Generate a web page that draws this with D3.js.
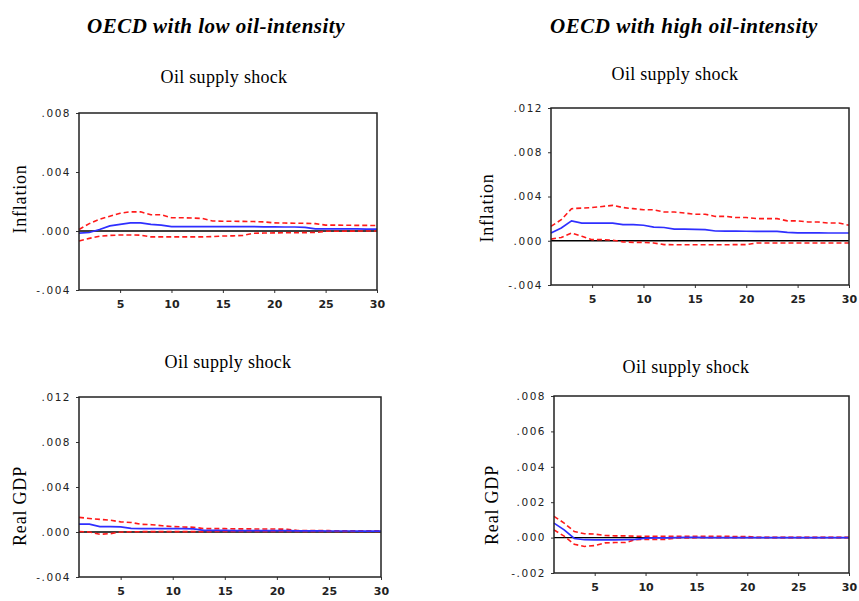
<!DOCTYPE html>
<meta charset="utf-8">
<head>
    <title>Oil supply shock responses</title>
</head>
<style>
    body { margin: 0; background: #fff; }
    svg { display: block; }
</style>
<script src="https://cdnjs.cloudflare.com/ajax/libs/d3/7.8.5/d3.min.js"></script>
<body>
    <div id="chart"></div>
</body>
<script>

    // periods after the shock
    var periods = [1, 2, 3, 4, 5, 6, 7, 8, 9, 10, 11, 12, 13, 14, 15, 16, 17, 18, 19, 20,
        21, 22, 23, 24, 25, 26, 27, 28, 29, 30];
    var xTicks = [5, 10, 15, 20, 25, 30];

    var groupTitles = ["OECD with low oil-intensity", "OECD with high oil-intensity"];

    // low oil-intensity, inflation
    var lowInfResp = [-0.00015, -0.0001, 0.0001, 0.00035, 0.00045, 0.00055, 0.00055, 0.00045, 0.0004, 0.0003,
        0.0003, 0.0003, 0.0003, 0.0003, 0.0003, 0.0003, 0.0003, 0.0003, 0.00028, 0.00028,
        0.00027, 0.00027, 0.00025, 0.00015, 0.00015, 0.00015, 0.00014, 0.00014, 0.00013, 0.00013];
    var lowInfUp = [0.0001, 0.0005, 0.0008, 0.001, 0.0012, 0.0013, 0.0013, 0.0011, 0.0011, 0.0009,
        0.0009, 0.00088, 0.00085, 0.00068, 0.00066, 0.00066, 0.00065, 0.00064, 0.00062, 0.00055,
        0.00054, 0.00053, 0.00052, 0.0005, 0.0004, 0.0004, 0.00039, 0.00038, 0.00038, 0.00037];
    var lowInfLo = [-0.00068, -0.0005, -0.00035, -0.0003, -0.00027, -0.00027, -0.00028, -0.0004, -0.0004, -0.0004,
        -0.0004, -0.0004, -0.0004, -0.00038, -0.00034, -0.00033, -0.0003, -0.00015, -0.00014, -0.00013,
        -0.00012, -0.00012, -0.00011, -0.0001, -0.00002, -0.00002, -0.00001, -0.00001, 0, 0];

    // high oil-intensity, inflation
    var highInfResp = [0.0007, 0.00115, 0.0018, 0.0016, 0.0016, 0.0016, 0.0016, 0.00145, 0.00145, 0.0014,
        0.00124, 0.0012, 0.00105, 0.00105, 0.00103, 0.001, 0.00088, 0.00087, 0.00087, 0.00086,
        0.00085, 0.00085, 0.00084, 0.00075, 0.00072, 0.00072, 0.00071, 0.0007, 0.0007, 0.0007];
    var highInfUp = [0.0013, 0.0019, 0.0029, 0.00295, 0.003, 0.0031, 0.0032, 0.003, 0.0029, 0.0028,
        0.0028, 0.0026, 0.0026, 0.0025, 0.0024, 0.0024, 0.0022, 0.0022, 0.0021, 0.0021,
        0.002, 0.002, 0.002, 0.0018, 0.0018, 0.0017, 0.0017, 0.0016, 0.0016, 0.0014];
    var highInfLo = [0.00015, 0.0003, 0.0007, 0.0004, 0.0001, 0.0001, 0.00005, -0.0001, -0.00015, -0.00015,
        -0.0002, -0.00035, -0.00036, -0.00036, -0.00036, -0.00036, -0.00036, -0.00036, -0.00035, -0.00035,
        -0.0002, -0.0002, -0.0002, -0.0002, -0.0002, -0.0002, -0.0002, -0.0002, -0.0002, -0.0002];

    // low oil-intensity, real GDP
    var lowGdpResp = [0.0007, 0.0007, 0.00048, 0.00047, 0.00046, 0.00032, 0.0003, 0.0003, 0.0003, 0.0003,
        0.0003, 0.00028, 0.00015, 0.00014, 0.00014, 0.00013, 0.00013, 0.00013, 0.00012, 0.00012,
        0.00012, 0.0001, 0.0001, 0.0001, 0.00009, 0.00009, 0.00009, 0.00008, 0.00008, 0.00008];
    var lowGdpUp = [0.0013, 0.0012, 0.00112, 0.00105, 0.0009, 0.00085, 0.00068, 0.00065, 0.00055, 0.00048,
        0.00045, 0.00042, 0.0003, 0.0003, 0.0003, 0.00028, 0.00028, 0.00027, 0.00027, 0.00026,
        0.00025, 0.00013, 0.00013, 0.00012, 0.00012, 0.00011, 0.00011, 0.0001, 0.0001, 0.0001];
    var lowGdpLo = [0.00005, 0, -0.0002, -0.00015, 0, 0.00002, 0.00003, 0.00003, 0.00003, 0.00003,
        0.00003, 0.00003, 0.00003, 0.00004, 0.00004, 0.00004, 0.00004, 0.00004, 0.00004, 0.00004,
        0.00004, 0.00004, 0.00004, 0.00004, 0.00004, 0.00004, 0.00004, 0.00004, 0.00004, 0.00004];

    // high oil-intensity, real GDP
    var highGdpResp = [0.00082, 0.00044, -0.00005, -0.00012, -0.00013, -0.00013, -0.00013, -0.00012, -0.0001, -0.00003,
        -0.00002, -0.00001, 0, 0.00001, 0.00001, 0, 0, 0, 0, 0,
        0, 0, 0, 0, 0, 0, 0, 0, 0, 0];
    var highGdpUp = [0.0012, 0.00082, 0.00034, 0.00022, 0.0002, 0.00012, 0.0001, 0.0001, 0.00008, 0.00008,
        0.00007, 0.00007, 0.00007, 0.00008, 0.00008, 0.00007, 0.00007, 0.00007, 0.00006, 0.00006,
        0.00002, 0.00001, 0.00001, 0.00001, 0.00001, 0.00001, 0.00001, 0.00001, 0.00001, 0.00001];
    var highGdpLo = [0.00044, 0.00008, -0.00038, -0.0005, -0.00045, -0.0003, -0.00028, -0.00028, -0.00012, -0.0001,
        -0.0001, -0.0001, -0.00002, -0.00002, -0.00001, -0.00001, -0.00001, 0, 0, 0,
        0, 0, 0, 0, 0, 0, 0, 0, 0, 0];

    // y ticks per panel
    var infLowTicks = [-0.004, 0, 0.004, 0.008];
    var infHighTicks = [-0.004, 0, 0.004, 0.008, 0.012];
    var gdpLowTicks = [-0.004, 0, 0.004, 0.008, 0.012];
    var gdpHighTicks = [-0.002, 0, 0.002, 0.004, 0.006, 0.008];

    var width = 859, height = 601;

    var svg = d3.select("#chart")
        .append("svg")
        .attr("width", width)
        .attr("height", height);

    // panel layout (box in pixels, label positions)
    var panels = [
        { resp: lowInfResp, up: lowInfUp, lo: lowInfLo, ticks: infLowTicks, ylabel: "Inflation",
          box: [79, 377, 113, 290], lab: [20, 199], sub: [224, 83] },
        { resp: highInfResp, up: highInfUp, lo: highInfLo, ticks: infHighTicks, ylabel: "Inflation",
          box: [551, 849, 108, 285], lab: [487, 208], sub: [675, 80] },
        { resp: lowGdpResp, up: lowGdpUp, lo: lowGdpLo, ticks: gdpLowTicks, ylabel: "Real GDP",
          box: [79, 381, 397, 577], lab: [20, 506], sub: [228, 368] },
        { resp: highGdpResp, up: highGdpUp, lo: highGdpLo, ticks: gdpHighTicks, ylabel: "Real GDP",
          box: [554, 849, 396, 573], lab: [492, 505], sub: [686, 373] }
    ];

    // group titles
    svg.append("text").attr("x", 216).attr("y", 33).attr("text-anchor", "middle")
        .attr("font-family", "Liberation Serif, serif").attr("font-weight", "bold")
        .attr("font-style", "italic").attr("font-size", "21px").attr("letter-spacing", "0.5px")
        .text(groupTitles[0]);
    svg.append("text").attr("x", 684).attr("y", 33).attr("text-anchor", "middle")
        .attr("font-family", "Liberation Serif, serif").attr("font-weight", "bold")
        .attr("font-style", "italic").attr("font-size", "21px").attr("letter-spacing", "0.5px")
        .text(groupTitles[1]);

    function fmt(v) {
        if (v === 0) return ".000";
        var s = d3.format(".3f")(Math.abs(v)).replace(/^0/, "");
        return (v < 0 ? "-" : "") + s;
    }

    panels.forEach(function (p) {
        var x = d3.scaleLinear().domain([1, 30]).range([p.box[0], p.box[1]]);
        var y = d3.scaleLinear().domain([p.ticks[0], p.ticks[p.ticks.length - 1]]).range([p.box[3], p.box[2]]);

        // subtitle
        svg.append("text").attr("x", p.sub[0]).attr("y", p.sub[1]).attr("text-anchor", "middle")
            .attr("font-family", "Liberation Serif, serif").attr("font-size", "18px")
            .attr("letter-spacing", "0.3px")
            .text("Oil supply shock");

        // y label
        svg.append("text")
            .attr("transform", "translate(" + (p.lab[0] + 6) + "," + p.lab[1] + ") rotate(-90)")
            .attr("text-anchor", "middle")
            .attr("font-family", "Liberation Serif, serif").attr("font-size", "18px")
            .attr("letter-spacing", "0.8px")
            .text(p.ylabel);

        // axes
        var yAxis = svg.append("g")
            .attr("transform", "translate(" + p.box[0] + ",0)")
            .call(d3.axisLeft(y).tickValues(p.ticks).tickSize(3).tickPadding(5).tickFormat(fmt));
        yAxis.select(".domain").remove();
        yAxis.selectAll("text").attr("font-family", "DejaVu Sans, sans-serif")
            .attr("font-size", "10.5px").attr("letter-spacing", "1.5px").attr("fill", "#222");
        yAxis.selectAll("line").attr("stroke", "#333");

        var xAxis = svg.append("g")
            .attr("transform", "translate(0," + p.box[3] + ")")
            .call(d3.axisBottom(x).tickValues(xTicks).tickSize(3).tickPadding(7));
        xAxis.select(".domain").remove();
        xAxis.selectAll("text").attr("font-family", "DejaVu Sans, sans-serif")
            .attr("font-weight", "bold").attr("font-size", "11px").attr("fill", "#222");
        xAxis.selectAll("line").attr("stroke", "#333");

        // zero line
        svg.append("line")
            .attr("x1", x(1)).attr("x2", x(30))
            .attr("y1", y(0)).attr("y2", y(0))
            .attr("stroke", "#000").attr("stroke-width", 1.3);

        var line = d3.line()
            .x(function (d, i) { return x(periods[i]); })
            .y(function (d) { return y(d); });

        [p.up, p.lo].forEach(function (band) {
            svg.append("path")
                .datum(band)
                .attr("fill", "none")
                .attr("stroke", "#ff1a1a")
                .attr("stroke-width", 1.6)
                .attr("stroke-dasharray", "5,3")
                .attr("d", line);
        });

        svg.append("path")
            .datum(p.resp)
            .attr("fill", "none")
            .attr("stroke", "#2f2fff")
            .attr("stroke-width", 1.7)
            .attr("d", line);

        // frame
        svg.append("rect")
            .attr("x", p.box[0]).attr("y", p.box[2])
            .attr("width", p.box[1] - p.box[0])
            .attr("height", p.box[3] - p.box[2])
            .attr("fill", "none")
            .attr("stroke", "#222")
            .attr("stroke-width", 1.5);
    });

</script>
